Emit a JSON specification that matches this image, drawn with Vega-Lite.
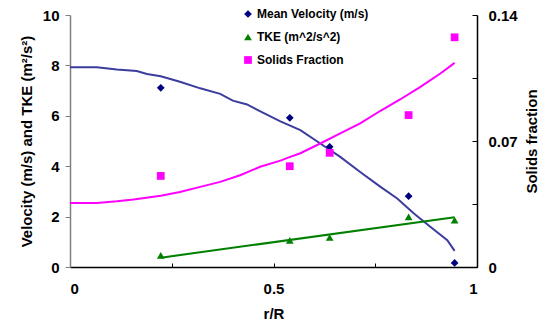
{
  "$schema": "https://vega.github.io/schema/vega-lite/v6.json",
  "width": 407,
  "height": 252,
  "autosize": {"type": "none"},
  "padding": {"left": 70, "top": 15, "right": 66, "bottom": 58},
  "background": "white",
  "config": {
    "view": {"stroke": null},
    "font": "Liberation Sans",
    "axis": {
      "grid": false,
      "labelFont": "Liberation Sans",
      "titleFont": "Liberation Sans",
      "labelFontWeight": "bold",
      "titleFontWeight": "bold",
      "labelFontSize": 15,
      "titleFontSize": 15,
      "labelColor": "black",
      "titleColor": "black",
      "domainColor": "black",
      "tickColor": "black",
      "domainWidth": 1.5
    },
    "legend": {
      "labelFont": "Liberation Sans"
    }
  },
  "datasets": {
    "points": [
      {"series": "Mean Velocity (m/s)", "r": 0.223, "value": 7.11},
      {"series": "Mean Velocity (m/s)", "r": 0.54, "value": 5.92},
      {"series": "Mean Velocity (m/s)", "r": 0.638, "value": 4.77},
      {"series": "Mean Velocity (m/s)", "r": 0.832, "value": 2.81},
      {"series": "Mean Velocity (m/s)", "r": 0.945, "value": 0.16},
      {"series": "TKE (m^2/s^2)", "r": 0.223, "value": 0.46},
      {"series": "TKE (m^2/s^2)", "r": 0.54, "value": 1.06},
      {"series": "TKE (m^2/s^2)", "r": 0.638, "value": 1.17},
      {"series": "TKE (m^2/s^2)", "r": 0.832, "value": 1.99},
      {"series": "TKE (m^2/s^2)", "r": 0.945, "value": 1.86}
    ],
    "solidsPoints": [
      {"series": "Solids Fraction", "r": 0.223, "value": 0.0506},
      {"series": "Solids Fraction", "r": 0.54, "value": 0.056},
      {"series": "Solids Fraction", "r": 0.638, "value": 0.0634},
      {"series": "Solids Fraction", "r": 0.832, "value": 0.0844},
      {"series": "Solids Fraction", "r": 0.945, "value": 0.1276}
    ],
    "velCurve": [
      {"r": 0, "value": 7.93},
      {"r": 0.066, "value": 7.93},
      {"r": 0.115, "value": 7.84},
      {"r": 0.164, "value": 7.78},
      {"r": 0.189, "value": 7.66},
      {"r": 0.223, "value": 7.57},
      {"r": 0.27, "value": 7.35},
      {"r": 0.32, "value": 7.09},
      {"r": 0.369, "value": 6.87},
      {"r": 0.4, "value": 6.6},
      {"r": 0.435, "value": 6.45},
      {"r": 0.475, "value": 6.12},
      {"r": 0.517, "value": 5.78},
      {"r": 0.566, "value": 5.43},
      {"r": 0.615, "value": 4.9},
      {"r": 0.664, "value": 4.37},
      {"r": 0.713, "value": 3.77},
      {"r": 0.763, "value": 3.18},
      {"r": 0.804, "value": 2.72},
      {"r": 0.845, "value": 2.12},
      {"r": 0.886, "value": 1.59},
      {"r": 0.927, "value": 1.06},
      {"r": 0.945, "value": 0.64}
    ],
    "tkeLine": [
      {"r": 0.223, "value": 0.37},
      {"r": 0.945, "value": 1.97}
    ],
    "solidsCurve": [
      {"r": 0, "value": 0.0356},
      {"r": 0.066, "value": 0.0356},
      {"r": 0.115, "value": 0.0365},
      {"r": 0.156, "value": 0.0375},
      {"r": 0.223, "value": 0.0396},
      {"r": 0.27, "value": 0.0417},
      {"r": 0.32, "value": 0.0445},
      {"r": 0.369, "value": 0.0473},
      {"r": 0.418, "value": 0.051},
      {"r": 0.467, "value": 0.0557},
      {"r": 0.517, "value": 0.0591},
      {"r": 0.541, "value": 0.0612},
      {"r": 0.566, "value": 0.0632},
      {"r": 0.615, "value": 0.0686},
      {"r": 0.664, "value": 0.0742},
      {"r": 0.713, "value": 0.0798},
      {"r": 0.763, "value": 0.0868},
      {"r": 0.812, "value": 0.0932},
      {"r": 0.861, "value": 0.1001},
      {"r": 0.91, "value": 0.1075},
      {"r": 0.945, "value": 0.1134}
    ]
  },
  "layer": [
    {
      "layer": [
        {
          "data": {"name": "velCurve"},
          "mark": {"type": "line", "color": "#3c3c9e", "strokeWidth": 2},
          "encoding": {
            "x": {
              "field": "r", "type": "quantitative",
              "scale": {"domain": [0, 1], "nice": false},
              "axis": {
                "values": [0, 0.25, 0.5, 0.75, 1],
                "labelExpr": "datum.value == 0 ? '0' : (datum.value == 0.5 ? '0.5' : (datum.value == 1 ? '1' : ''))",
                "title": "r/R",
                "tickSize": -4,
                "labelPadding": 18,
                "titlePadding": 10
              }
            },
            "y": {
              "field": "value", "type": "quantitative",
              "scale": {"domain": [0, 10], "nice": false},
              "axis": {
                "orient": "left",
                "values": [0, 1, 2, 3, 4, 5, 6, 7, 8, 9, 10],
                "labelExpr": "datum.value % 2 == 0 ? datum.label : ''",
                "title": "Velocity (m/s) and TKE (m²/s²)",
                "tickSize": 5,
                "labelPadding": 6,
                "titlePadding": 8,
                "domainColor": "#808080",
                "tickColor": "#808080"
              }
            }
          }
        },
        {
          "data": {"name": "tkeLine"},
          "mark": {"type": "line", "color": "#008000", "strokeWidth": 2},
          "encoding": {
            "x": {"field": "r", "type": "quantitative"},
            "y": {"field": "value", "type": "quantitative"}
          }
        },
        {
          "data": {"name": "points"},
          "mark": {"type": "point", "filled": true, "size": 60, "opacity": 1},
          "encoding": {
            "x": {"field": "r", "type": "quantitative"},
            "y": {"field": "value", "type": "quantitative"},
            "color": {
              "field": "series", "type": "nominal",
              "scale": {"domain": ["Mean Velocity (m/s)", "TKE (m^2/s^2)", "Solids Fraction"], "range": ["#000080", "#008000", "#ff00ff"]},
              "legend": {"orient": "none", "legendX": 172, "legendY": -7, "title": null, "labelFontSize": 12, "labelFontWeight": "bold", "labelColor": "black", "symbolSize": 60, "rowPadding": 11, "labelOffset": 3}
            },
            "shape": {
              "field": "series", "type": "nominal",
              "scale": {"domain": ["Mean Velocity (m/s)", "TKE (m^2/s^2)", "Solids Fraction"], "range": ["diamond", "triangle-up", "square"]},
              "legend": {"orient": "none", "legendX": 172, "legendY": -7, "title": null, "labelFontSize": 12, "labelFontWeight": "bold", "labelColor": "black", "symbolSize": 60, "rowPadding": 11, "labelOffset": 3}
            }
          }
        }
      ]
    },
    {
      "layer": [
        {
          "data": {"name": "solidsCurve"},
          "mark": {"type": "line", "color": "#ff00ff", "strokeWidth": 2},
          "encoding": {
            "x": {"field": "r", "type": "quantitative"},
            "y": {
              "field": "value", "type": "quantitative",
              "scale": {"domain": [0, 0.14], "nice": false},
              "axis": {
                "orient": "right",
                "values": [0, 0.035, 0.07, 0.105, 0.14],
                "labelExpr": "datum.value < 0.001 ? '0' : (abs(datum.value - 0.07) < 0.001 ? '0.07' : (abs(datum.value - 0.14) < 0.001 ? '0.14' : ''))",
                "title": "Solids fraction",
                "titleAngle": 270,
                "titleBaseline": "bottom",
                "tickSize": -5,
                "labelPadding": 16,
                "titlePadding": 22
              }
            }
          }
        },
        {
          "data": {"name": "solidsPoints"},
          "mark": {"type": "point", "filled": true, "size": 60, "opacity": 1},
          "encoding": {
            "x": {"field": "r", "type": "quantitative"},
            "y": {"field": "value", "type": "quantitative"},
            "color": {"field": "series", "type": "nominal"},
            "shape": {"field": "series", "type": "nominal"}
          }
        }
      ]
    }
  ],
  "resolve": {"scale": {"y": "independent"}}
}
